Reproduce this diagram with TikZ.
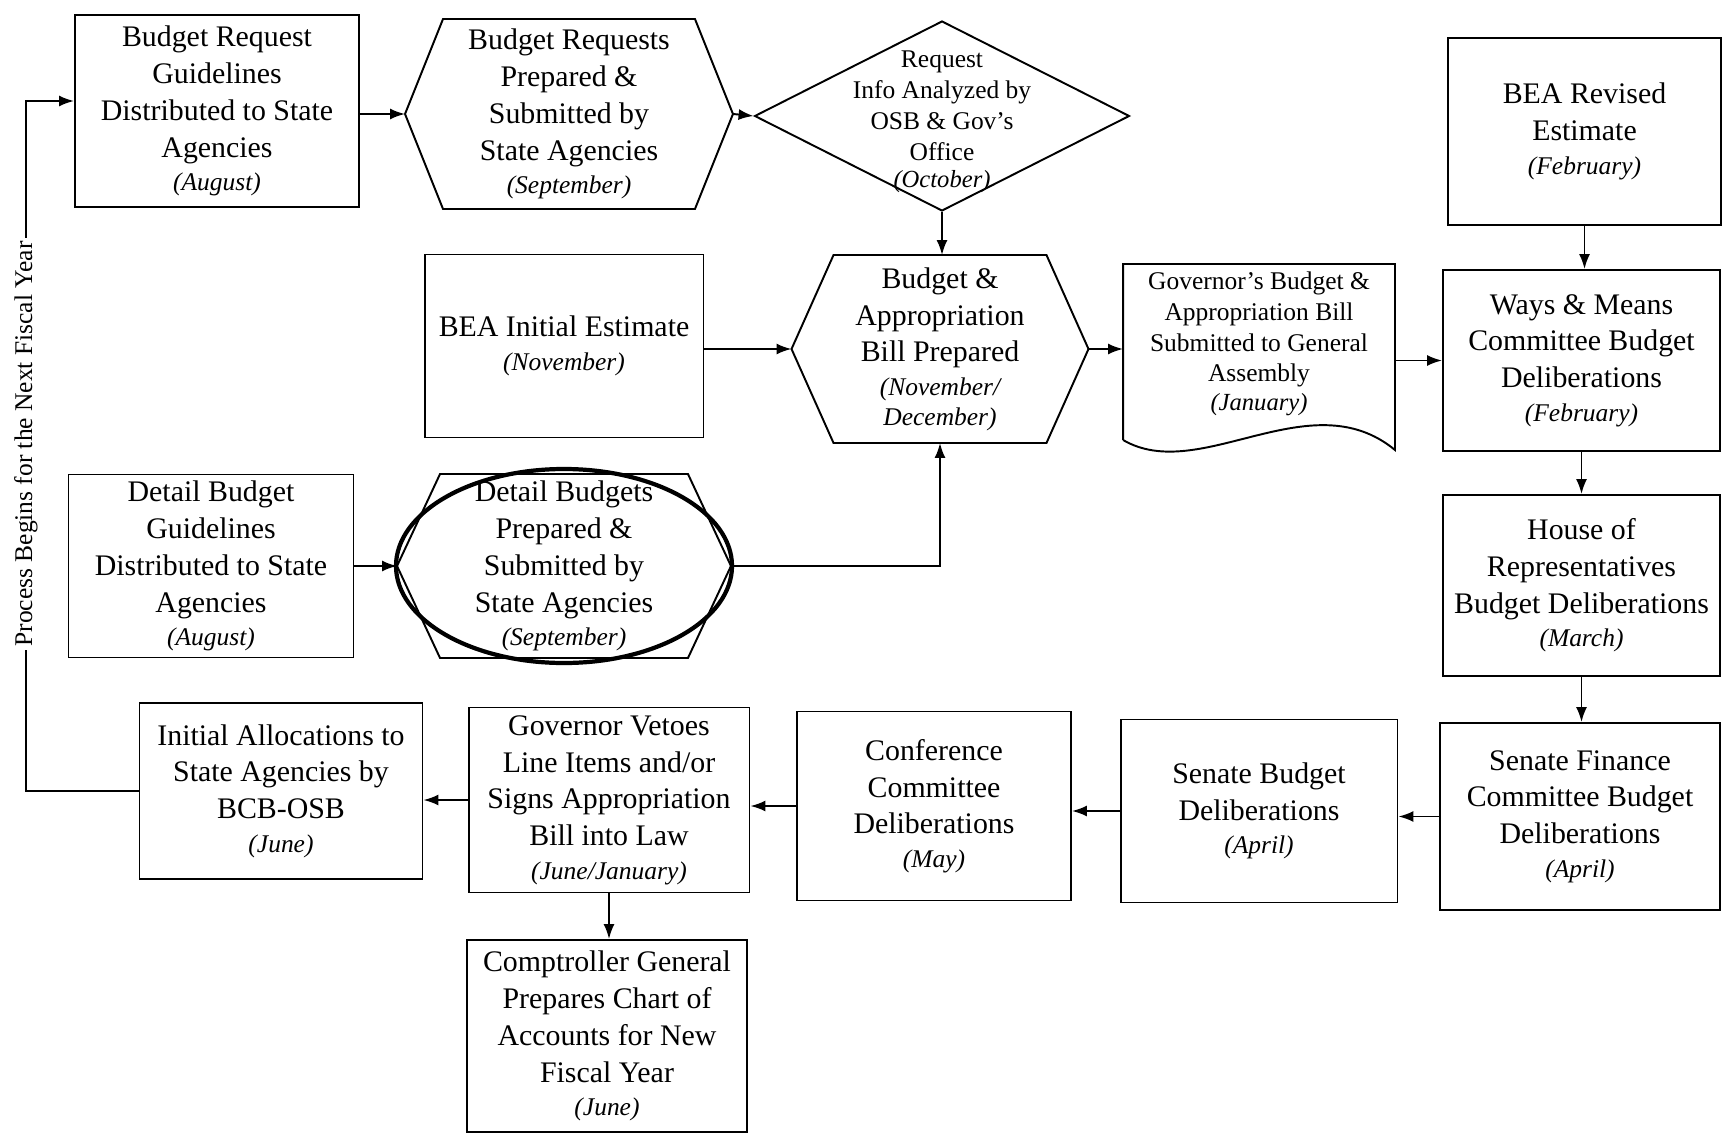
\documentclass[tikz,border=0pt]{standalone}
\usepackage{fontspec}
\setmainfont{Liberation Serif}
\usetikzlibrary{arrows.meta, positioning, shapes.geometric, calc}
\newcommand{\mfont}{\fontsize{14.5}{17}\selectfont\itshape}
\tikzset{
  every picture/.style={line width=1.1pt},
  box/.style={draw, align=center, inner sep=1pt, font=\fontsize{17}{21}\selectfont},
  hexbox/.style={align=center, inner sep=1pt, outer sep=0pt, font=\fontsize{17}{21}\selectfont},
  smalltext/.style={align=center, inner sep=1pt, outer sep=0pt, font=\fontsize{14.5}{17.5}\selectfont},
  arrow/.style={-{Latex[length=3mm, width=2.2mm]}, line width=1.1pt},
  side/.style={font=\fontsize{14.5}{17}\selectfont, fill=white, inner sep=2pt},
}

\begin{document}
\begin{tikzpicture}[x=0.02cm, y=-0.02cm]
  \useasboundingbox (0,0) rectangle (1723,1135);
  % top row
  \node[box, minimum width=5.68cm, minimum height=3.84cm] (a) at (217,111)
    {Budget Request\\Guidelines\\Distributed to State\\Agencies\\[-2pt]{\mfont(August)}};
  \node[hexbox, minimum width=5.04cm, minimum height=3.8cm] (b) at (569,114)
    {Budget Requests\\Prepared \&\\Submitted by\\State Agencies\\[-2pt]{\mfont(September)}};
  \coordinate (b-l) at ($(b.west)+(-38,0)$);
  \coordinate (b-r) at ($(b.east)+(38,0)$);
  \draw (b.north west) -- (b.north east) -- (b-r) -- (b.south east) -- (b.south west) -- (b-l) -- cycle;
  \node[diamond, draw, minimum width=7.5cm, minimum height=3.8cm, inner sep=0pt] (c) at (942,116) {};
  \node[smalltext] (c-txt) at ($(c.center)+(0,6)$)
    {Request\\Info Analyzed by\\OSB \& Gov's\\Office\\[-2pt]{\fontsize{14}{17}\selectfont\itshape(October)}};
  \node[box, minimum width=5.46cm, minimum height=3.74cm] (brev) at (1584.5,131.5)
    {BEA Revised\\Estimate\\[-2pt]{\mfont(February)}};

  % second row
  \node[box, minimum width=5.58cm, minimum height=3.66cm] (binit) at (564,346)
    {BEA Initial Estimate\\[-2pt]{\mfont(November)}};
  \node[hexbox, minimum width=4.26cm, minimum height=3.76cm] (d) at (940,349)
    {Budget \&\\Appropriation\\Bill Prepared\\[-2pt]{\mfont(November/}\\[-4pt]{\mfont December)}};
  \coordinate (d-l) at ($(d.west)+(-42,0)$);
  \coordinate (d-r) at ($(d.east)+(42,0)$);
  \draw (d.north west) -- (d.north east) -- (d-r) -- (d.south east) -- (d.south west) -- (d-l) -- cycle;
  \node[smalltext, minimum width=5.44cm, minimum height=3.2cm] (e) at (1259,344)
    {Governor's Budget \&\\Appropriation Bill\\Submitted to General\\Assembly\\[-1pt]{\fontsize{14}{17}\selectfont\itshape(January)}};
  \draw ($(e.south west)+(0,16)$) -- (e.north west) -- (e.north east) -- ($(e.south east)+(0,26)$)
    .. controls ($(e.south east)+(-85,-44)$) and ($(e.south west)+(77,61)$) .. ($(e.south west)+(0,16)$);
  \node[box, minimum width=5.54cm, minimum height=3.62cm] (ways) at (1581.5,360.5)
    {Ways \& Means\\Committee Budget\\Deliberations\\[-2pt]{\mfont(February)}};

  % third row
  \node[box, minimum width=5.7cm, minimum height=3.66cm] (dguide) at (211,566)
    {Detail Budget\\Guidelines\\Distributed to State\\Agencies\\[-2pt]{\mfont(August)}};
  \node[hexbox, minimum width=4.96cm, minimum height=3.68cm] (dhex) at (564,566)
    {Detail Budgets\\Prepared \&\\Submitted by\\State Agencies\\[-2pt]{\mfont(September)}};
  \coordinate (dhex-l) at ($(dhex.west)+(-43,0)$);
  \coordinate (dhex-r) at ($(dhex.east)+(43,0)$);
  \draw (dhex.north west) -- (dhex.north east) -- (dhex-r) -- (dhex.south east) -- (dhex.south west) -- (dhex-l) -- cycle;
  \draw[line width=2.4pt] (dhex.center) ellipse [x radius=168, y radius=97];
  \node[box, minimum width=5.54cm, minimum height=3.62cm] (house) at (1581.5,585.5)
    {House of\\Representatives\\Budget Deliberations\\[-2pt]{\mfont(March)}};

  % bottom rows
  \node[box, minimum width=5.66cm, minimum height=3.52cm] (init) at (281,791)
    {Initial Allocations to\\State Agencies by\\BCB-OSB\\[-2pt]{\mfont(June)}};
  \node[box, minimum width=5.62cm, minimum height=3.7cm] (gov) at (609,800)
    {Governor Vetoes\\Line Items and/or\\Signs Appropriation\\Bill into Law\\[-2pt]{\mfont(June/January)}};
  \node[box, minimum width=5.48cm, minimum height=3.78cm] (conf) at (934,806)
    {Conference\\Committee\\Deliberations\\[-2pt]{\mfont(May)}};
  \node[box, minimum width=5.54cm, minimum height=3.66cm] (senb) at (1259,811)
    {Senate Budget\\Deliberations\\[-2pt]{\mfont(April)}};
  \node[box, minimum width=5.6cm, minimum height=3.74cm] (senf) at (1580,816.5)
    {Senate Finance\\Committee Budget\\Deliberations\\[-2pt]{\mfont(April)}};
  \node[box, minimum width=5.6cm, minimum height=3.84cm] (comp) at (607,1036)
    {Comptroller General\\Prepares Chart of\\Accounts for New\\Fiscal Year\\[-2pt]{\mfont(June)}};

  % connectors
  \draw[arrow] (a.east |- b-l) -- (b-l);
  \draw[arrow] (b-r) -- (c.west);
  \draw[arrow] (c.south) -- (c.south |- d.north);
  \draw[arrow] (binit.east |- d-l) -- (d-l);
  \draw[arrow] (d-r) -- (d-r -| e.west);
  \draw[arrow] (e.east |- ways.west) -- (ways.west);
  \draw[arrow] (brev.south) -- (brev.south |- ways.north);
  \draw[arrow] (ways.south) -- (ways.south |- house.north);
  \draw[arrow] (house.south) -- (house.south |- senf.north);
  \draw[arrow] (senf.west) -- (senf.west -| senb.east);
  \draw[arrow] (senb.west) -- (senb.west -| conf.east);
  \draw[arrow] (conf.west) -- (conf.west -| gov.east);
  \draw[arrow] (gov.west) -- (gov.west -| init.east);
  \draw[arrow] (gov.south) -- (gov.south |- comp.north);
  \draw[arrow] (dguide.east |- dhex-l) -- (dhex-l);
  \draw[arrow] (dhex-r) -| (d.south);

  % loop back to the start
  \coordinate (fb-bot) at (26,791);
  \coordinate (fb-top) at (26,101);
  \draw[arrow] (init.west) -- (fb-bot) -- (fb-top) -- (fb-top -| a.west);
  \node[side, rotate=90] (fb-txt) at (26,444) {Process Begins for the Next Fiscal Year};
\end{tikzpicture}
\end{document}
